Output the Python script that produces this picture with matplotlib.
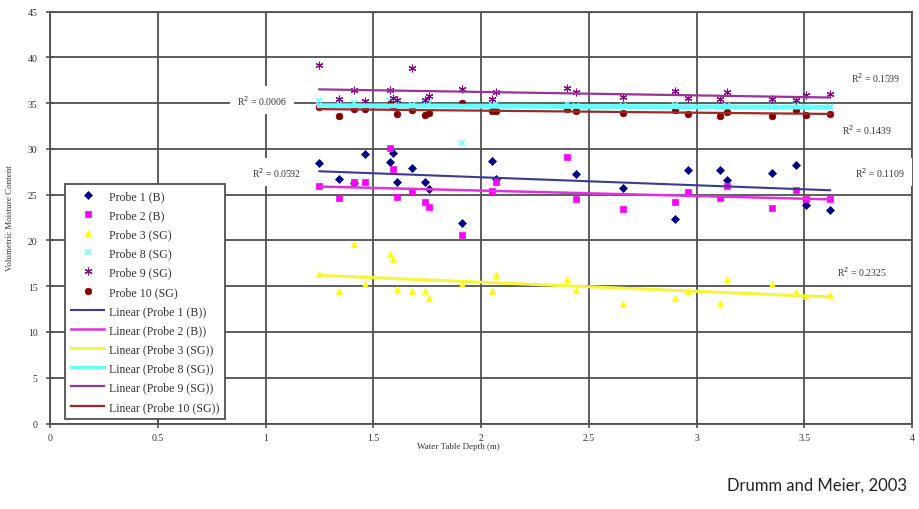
import numpy as np
import matplotlib
matplotlib.use("Agg")
import matplotlib.pyplot as plt
from matplotlib.lines import Line2D

# water table depth (m) shared by all probes
depth = [1.25, 1.34, 1.41, 1.46, 1.58, 1.59, 1.61, 1.68, 1.74, 1.76, 1.91, 2.05,
         2.07, 2.40, 2.44, 2.66, 2.90, 2.96, 3.11, 3.14, 3.35, 3.46, 3.51, 3.62]
nan = np.nan
probe1 = [28.5, 26.7, 26.3, 29.5, 28.6, 29.6, 26.4, 27.9, 26.4, 25.6, 21.9, 28.7,
          26.7, nan, 27.3, 25.7, 22.4, 27.7, 27.7, 26.6, 27.4, 28.3, 23.9, 23.3]
probe2 = [25.9, 24.6, 26.4, 26.4, 30.1, 27.8, 24.7, 25.4, 24.2, 23.7, 20.6, 25.4,
          26.4, 29.1, 24.5, 23.4, 24.2, 25.3, 24.6, 25.9, 23.6, 25.5, 24.5, 24.5]
probe3 = [16.3, 14.5, 19.6, 15.2, 18.5, 18.0, 14.7, 14.5, 14.5, 13.7, 15.2, 14.5,
          16.2, 15.8, 14.6, 13.1, 13.7, 14.5, 13.2, 15.8, 15.2, 14.4, 13.9, 14.0]
probe8 = [35.2, 34.9, 35.0, 34.9, 35.2, 34.8, 34.9, 34.8, 35.0, 35.0, 30.7, 34.8,
          34.9, 34.9, 34.7, 34.7, 34.8, 34.6, 34.6, 34.7, 34.6, 34.8, 34.6, 34.6]
probe9 = [39.2, 35.5, 36.4, 35.2, 36.4, 35.6, 35.3, 38.9, 35.4, 35.8, 36.6, 35.5,
          36.2, 36.7, 36.2, 35.7, 36.3, 35.6, 35.5, 36.2, 35.5, 35.3, 35.9, 36.0]
probe10 = [34.55, 33.6, 34.4, 34.4, 34.9, 34.6, 33.8, 34.3, 33.7, 33.9, 35.0, 34.1,
           34.2, 34.4, 34.1, 33.9, 34.3, 33.8, 33.6, 34.0, 33.6, 34.3, 33.7, 33.8]

names = ["Probe 1 (B)", "Probe 2 (B)", "Probe 3 (SG)", "Probe 8 (SG)",
         "Probe 9 (SG)", "Probe 10 (SG)"]
r2_labels = ["R$^2$ = 0.0006", "R$^2$ = 0.0592", "R$^2$ = 0.1599",
             "R$^2$ = 0.1439", "R$^2$ = 0.1109", "R$^2$ = 0.2325"]
r2_pos = [(0.984, 35.36), (1.049, 27.5), (3.833, 37.9),
          (3.791, 32.2), (3.852, 27.5), (3.77, 16.7)]

series = [probe1, probe2, probe3, probe8, probe9, probe10]
mk_color = ["#000080", "#FF00FF", "#FFFF00", "#66FFFF", "#800080", "#800000"]
ln_color = ["#3B3B8F", "#E030E0", "#F5F53A", "#66FFFF", "#993399", "#A02828"]
ln_width = [1.5, 1.8, 2.2, 3.5, 1.6, 1.6]
markers = ["D", "s", "^", "x", (6, 2, 0), "o"]
msize = [4.0, 4.5, 4.5, 4.5, 5.5, 4.8]
medge = [0.5, 0.5, 0.5, 1.1, 0.8, 0.5]

plt.rcParams["font.family"] = ["Liberation Serif", "DejaVu Serif"]
grid_c = "#505050"

fig = plt.figure(figsize=(9.19, 5.10), dpi=100)
ax = fig.add_axes([50 / 919, 1 - 424.5 / 510, 862 / 919, 411.8 / 510])

xs = np.array(depth)
for ys, mc, mk, ms, me in zip(series, mk_color, markers, msize, medge):
    ax.plot(xs, np.array(ys), linestyle="none", marker=mk, color=mc,
            markersize=ms, markeredgewidth=me, zorder=3)

# linear trendlines fitted to each probe
for ys, lc, lw in zip(series, ln_color, ln_width):
    ys = np.array(ys)
    ok = ~np.isnan(ys)
    k, b = np.polyfit(xs[ok], ys[ok], 1)
    xx = np.array([xs[ok].min(), xs[ok].max()])
    ax.plot(xx, k * xx + b, color=lc, lw=lw, zorder=4)

for lab, (tx, ty) in zip(r2_labels, r2_pos):
    ax.text(tx, ty, lab, ha="center", va="center", fontsize=7, color="#333333",
            bbox=dict(facecolor="white", edgecolor="none", pad=5), zorder=5)

ax.set_xlim(0, 4)
ax.set_ylim(0, 45)
ax.set_xticks(np.arange(0, 4.01, 0.5))
ax.set_xticklabels(["0", "0.5", "1", "1.5", "2", "2.5", "3", "3.5", "4"])
ax.set_yticks(np.arange(0, 46, 5))
ax.grid(True, color=grid_c, lw=1.3, zorder=1)
ax.set_axisbelow(True)
for s in ax.spines.values():
    s.set_color(grid_c)
    s.set_linewidth(1.3)
ax.tick_params(direction="inout", length=6, width=1.2, color=grid_c,
               labelsize=7, labelcolor="#333333")
ax.tick_params(axis="x", pad=4)
ax.tick_params(axis="y", pad=6)

ax.set_xlabel("Water Table Depth (m)", fontsize=6.5, color="#333333")
ax.xaxis.set_label_coords((458 - 50) / 862, -(443 - 424.5) / 411.8)
ax.set_ylabel("Volumetric Moisture Content", fontsize=6.5, color="#333333")
ax.yaxis.set_label_coords(-(50 - 14) / 862, 0.5)

handles = []
for nm, mc, mk, ms, me in zip(names, mk_color, markers, msize, medge):
    handles.append(Line2D([], [], linestyle="none", marker=mk, color=mc,
                          markersize=ms, markeredgewidth=me, label=nm))
for nm, lc, lw in zip(names, ln_color, ln_width):
    handles.append(Line2D([], [], color=lc, lw=min(lw, 2.2),
                          label="Linear (" + nm + ")"))
leg = ax.legend(handles=handles, loc="upper left",
                bbox_to_anchor=(65 / 919, 1 - 185 / 510),
                bbox_transform=fig.transFigure, borderaxespad=0,
                fontsize=8.6, labelspacing=0.60, handlelength=2.8,
                handletextpad=0.35, borderpad=0.5, fancybox=False,
                framealpha=1, edgecolor=grid_c)
leg.get_frame().set_linewidth(1.3)
leg.set_zorder(10)
for t in leg.get_texts():
    t.set_color("#333333")

fig.text(907 / 919, 1 - 486 / 510, "Drumm and Meier, 2003", ha="right",
         va="center", fontsize=12, family=["Lato", "DejaVu Sans"],
         color="#222222")

fig.savefig("out.png", dpi=100)
